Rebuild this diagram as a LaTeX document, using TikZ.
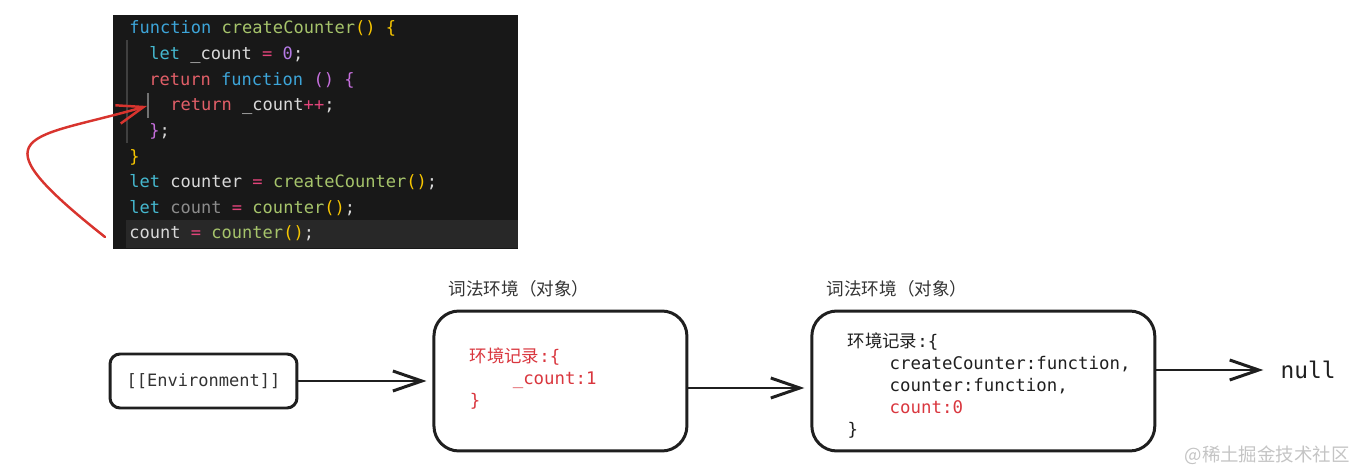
\documentclass[tikz,border=0pt]{standalone}
\usepackage{fontspec}
\newfontfamily\codefont{DejaVu Sans Mono}
\newfontfamily\cjk{Noto Sans CJK SC}
\usetikzlibrary{arrows.meta, positioning, calc}
\definecolor{codebg}{HTML}{181818}
\definecolor{curline}{HTML}{282828}
\definecolor{guidegrey}{HTML}{404040}
\definecolor{guideon}{HTML}{727272}
\definecolor{fnblue}{HTML}{3DA5D9}
\definecolor{letcyan}{HTML}{45B8CF}
\definecolor{fnname}{HTML}{A6C46B}
\definecolor{brgold}{HTML}{F7C600}
\definecolor{brpurple}{HTML}{C66FDD}
\definecolor{varwhite}{HTML}{D9D9D9}
\definecolor{oppink}{HTML}{E2447A}
\definecolor{numpurple}{HTML}{B57AE6}
\definecolor{retred}{HTML}{E25F68}
\definecolor{vardim}{HTML}{8C8C8C}
\definecolor{callred}{HTML}{D8342E}
\definecolor{ink}{HTML}{1F1F1F}
\definecolor{textgrey}{HTML}{333333}
\definecolor{recred}{HTML}{D9363E}
\definecolor{markgrey}{HTML}{C4C4C4}
\newcommand{\cfun}[1]{\textcolor{fnblue}{#1}}
\newcommand{\clet}[1]{\textcolor{letcyan}{#1}}
\newcommand{\cname}[1]{\textcolor{fnname}{#1}}
\newcommand{\cgold}[1]{\textcolor{brgold}{#1}}
\newcommand{\cpurp}[1]{\textcolor{brpurple}{#1}}
\newcommand{\cvar}[1]{\textcolor{varwhite}{#1}}
\newcommand{\cop}[1]{\textcolor{oppink}{#1}}
\newcommand{\cnum}[1]{\textcolor{numpurple}{#1}}
\newcommand{\cret}[1]{\textcolor{retred}{#1}}
\newcommand{\cdim}[1]{\textcolor{vardim}{#1}}
\tikzstyle{panel} = [rectangle, fill=codebg, anchor=north west, inner sep=0, minimum width=8.1cm, minimum height=4.68cm]
\tikzstyle{curlinebar} = [rectangle, fill=curline, anchor=north west, inner sep=0, minimum width=7.84cm, minimum height=0.56cm]
\tikzstyle{guideline} = [guidegrey, line width=1pt]
\tikzstyle{codeline} = [anchor=mid west, inner sep=0, font=\codefont\fontsize{9.7}{12}\selectfont]
\tikzstyle{callarrow} = [callred, line width=1.4pt, line cap=round, -{Straight Barb[length=5.3mm, width=3.8mm]}]
\tikzstyle{envbox} = [rectangle, draw=ink, line width=1.7pt, rounded corners=0.2cm, minimum width=3.74cm, minimum height=1.08cm, text=textgrey, font=\codefont\fontsize{9.7}{12}\selectfont]
\tikzstyle{lexbox} = [rectangle, draw=ink, line width=1.7pt, rounded corners=0.5cm, minimum height=2.8cm]
\tikzstyle{lexlabel} = [inner sep=0, text=textgrey, font=\cjk\fontsize{10}{12}\selectfont]
\tikzstyle{record} = [inner sep=0, align=left, text=ink, font=\codefont\fontsize{9.9}{12.4}\selectfont]
\tikzstyle{flow} = [ink, line width=1.7pt, -{Straight Barb[length=5.8mm, width=4mm]}, shorten >=0.12cm]

\begin{document}
\begin{tikzpicture}[x=0.02cm, y=-0.02cm]
    \useasboundingbox (0,0) rectangle (1354,472);

    % code screenshot
    \node (panel) [panel] at (113,15) {};
    \node (curline) [curlinebar] at (126,220) {};
    \draw [guideline] (127,40) -- (127,143);
    \draw [guideline, guideon] (148,93) -- (148,118);
    \node (line1) [codeline] at (129,30) {\cfun{function} \cname{createCounter}\cgold{()} \cgold{\{}};
    \node (line2) [codeline] at (149,56) {\clet{let} \cvar{\_count} \cop{=} \cnum{0}\cvar{;}};
    \node (line3) [codeline] at (149,82) {\cret{return} \cfun{function} \cpurp{()} \cpurp{\{}};
    \node (line4) [codeline] at (170,107) {\cret{return} \cvar{\_count}\cop{++}\cvar{;}};
    \node (line5) [codeline] at (149,133) {\cpurp{\}}\cvar{;}};
    \node (line6) [codeline] at (129,159) {\cgold{\}}};
    \node (line7) [codeline] at (129,184) {\clet{let} \cvar{counter} \cop{=} \cname{createCounter}\cgold{()}\cvar{;}};
    \node (line8) [codeline] at (129,210) {\clet{let} \cdim{count} \cop{=} \cname{counter}\cgold{()}\cvar{;}};
    \node (line9) [codeline] at (129,235) {\cvar{count} \cop{=} \cname{counter}\cgold{()}\cvar{;}};

    % hand drawn arrow
    \coordinate (callsite) at (105,237);
    \coordinate (innerfn) at (147,106);
    \draw [callarrow] (callsite) .. controls (-30,130) and (30,140) .. (innerfn);

    % environment chain
    \node (env) [envbox] at (203.5,381) {[[Environment]]};
    \node (lex1) [lexbox, minimum width=5.06cm, right=2.68cm of env] {};
    \node (lex2) [lexbox, minimum width=6.86cm, right=2.44cm of lex1] {};
    \node (lex1label) [lexlabel, above right=0.24cm and 0.32cm of lex1.north west] {词法环境（对象）};
    \node (lex2label) [lexlabel, above right=0.24cm and 0.32cm of lex2.north west] {词法环境（对象）};
    \node (rec1) [record, text=recred, right=0.74cm of lex1.west, yshift=0.05cm] {{\cjk 环境记录}:\{\\\hspace*{0.86cm}\_count:1\\\}};
    \node (rec2) [record, right=0.74cm of lex2.west, yshift=-0.09cm] {{\cjk 环境记录}:\{\\\hspace*{0.84cm}createCounter:function,\\\hspace*{0.84cm}counter:function,\\\hspace*{0.84cm}\textcolor{recred}{count:0}\\\}};
    \node (null) [inner sep=0.04cm, text=ink, font=\codefont\fontsize{13}{15}\selectfont, right=2.44cm of lex2.east, yshift=0.22cm] {null};

    \draw [flow] (env) -- (lex1);
    \draw [flow] ([yshift=-0.14cm]lex1.east) -- ([yshift=-0.14cm]lex2.west);
    \draw [flow, shorten >=0.3cm] ([yshift=0.22cm]lex2.east) -- (null.west);

    \node (mark) [anchor=east, inner sep=0, text=markgrey, font=\cjk\fontsize{10.5}{12}\selectfont] at (1350,455) {@稀土掘金技术社区};
\end{tikzpicture}
\end{document}
